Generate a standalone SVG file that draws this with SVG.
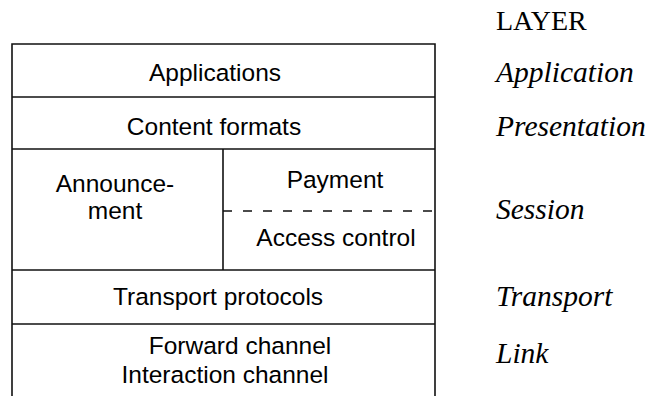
<svg xmlns="http://www.w3.org/2000/svg" width="652" height="396" viewBox="0 0 652 396">
  <style>
    .cell { font-family: "Liberation Sans", Arial, sans-serif; font-size: 24.5px; fill: #000; text-anchor: middle; }
    .layer { font-family: "Liberation Serif", "Times New Roman", serif; font-size: 29.5px; fill: #000; font-style: italic; }
    .head { font-family: "Liberation Serif", "Times New Roman", serif; font-size: 28px; fill: #000; }
    .rule { stroke: #111; stroke-width: 1.6; fill: none; }
    .dash { stroke: #111; stroke-width: 1.4; stroke-dasharray: 9 11; fill: none; }
  </style>
  <rect width="652" height="396" fill="#fff"/>

  <!-- stack outline and row dividers -->
  <g id="connectors">
    <path class="rule" d="M12 396 V44 H435 V396"/>
    <line class="rule" x1="12" y1="97" x2="435" y2="97"/>
    <line class="rule" x1="12" y1="149" x2="435" y2="149"/>
    <line class="rule" x1="223" y1="149" x2="223" y2="270"/>
    <line class="rule" x1="12" y1="270" x2="435" y2="270"/>
    <line class="rule" x1="12" y1="324" x2="435" y2="324"/>
    <line class="dash" x1="223" y1="211" x2="435" y2="211"/>
  </g>

  <g id="applications"><text class="cell" x="215" y="81">Applications</text></g>
  <g id="content-formats"><text class="cell" x="214" y="135">Content formats</text></g>
  <g id="announcement">
    <text class="cell" x="115" y="192">Announce-</text>
    <text class="cell" x="115" y="219">ment</text>
  </g>
  <g id="payment"><text class="cell" x="335" y="188">Payment</text></g>
  <g id="access-control"><text class="cell" x="336" y="246">Access control</text></g>
  <g id="transport-protocols"><text class="cell" x="218" y="305">Transport protocols</text></g>
  <g id="channels">
    <text class="cell" x="240" y="354">Forward channel</text>
    <text class="cell" x="225" y="383">Interaction channel</text>
  </g>

  <!-- layer names -->
  <g id="layers">
    <text class="head" x="496" y="30">LAYER</text>
    <text class="layer" x="496" y="82">Application</text>
    <text class="layer" x="496" y="136">Presentation</text>
    <text class="layer" x="496" y="219">Session</text>
    <text class="layer" x="496" y="306">Transport</text>
    <text class="layer" x="496" y="363">Link</text>
  </g>
</svg>
